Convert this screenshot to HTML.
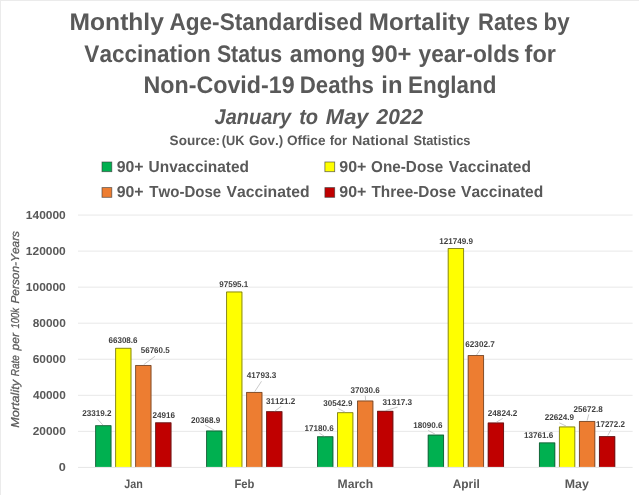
<!DOCTYPE html>
<html lang="en"><head><meta charset="utf-8"><title>Monthly Age-Standardised Mortality Rates</title>
<style>
html,body{margin:0;padding:0;background:#fff;}
body{width:639px;height:495px;overflow:hidden;}
svg{display:block;font-family:"Liberation Sans",sans-serif;font-kerning:none;text-rendering:geometricPrecision;}
</style></head><body>
<svg width="639" height="495" viewBox="0 0 639 495">
<rect x="0" y="0" width="639" height="495" fill="#ffffff"/>
<rect x="0" y="0" width="639" height="1" fill="#ebebeb"/>
<rect x="0" y="0" width="1" height="495" fill="#ebebeb"/>

<text y="30.00" font-size="24" fill="#595959" style="font-weight:bold"><tspan x="69.60" textLength="94.28" lengthAdjust="spacingAndGlyphs">Monthly</tspan> <tspan x="169.44" textLength="193.30" lengthAdjust="spacingAndGlyphs">Age-Standardised</tspan> <tspan x="368.88" textLength="100.75" lengthAdjust="spacingAndGlyphs">Mortality</tspan> <tspan x="478.03" textLength="59.87" lengthAdjust="spacingAndGlyphs">Rates</tspan> <tspan x="543.53" textLength="26.09" lengthAdjust="spacingAndGlyphs">by</tspan></text>
<text y="61.50" font-size="24" fill="#595959" style="font-weight:bold"><tspan x="84.35" textLength="126.55" lengthAdjust="spacingAndGlyphs">Vaccination</tspan> <tspan x="216.89" textLength="65.24" lengthAdjust="spacingAndGlyphs">Status</tspan> <tspan x="289.83" textLength="75.46" lengthAdjust="spacingAndGlyphs">among</tspan> <tspan x="371.18" textLength="40.29" lengthAdjust="spacingAndGlyphs">90+</tspan> <tspan x="418.57" textLength="101.11" lengthAdjust="spacingAndGlyphs">year-olds</tspan> <tspan x="524.60" textLength="31.26" lengthAdjust="spacingAndGlyphs">for</tspan></text>
<text y="92.75" font-size="24" fill="#595959" style="font-weight:bold"><tspan x="143.44" textLength="151.17" lengthAdjust="spacingAndGlyphs">Non-Covid-19</tspan> <tspan x="299.76" textLength="74.15" lengthAdjust="spacingAndGlyphs">Deaths</tspan> <tspan x="381.34" textLength="21.14" lengthAdjust="spacingAndGlyphs">in</tspan> <tspan x="408.00" textLength="88.48" lengthAdjust="spacingAndGlyphs">England</tspan></text>
<text y="124.10" font-size="21.5" fill="#595959" style="font-weight:bold;font-style:italic"><tspan x="214.56" textLength="76.61" lengthAdjust="spacingAndGlyphs">January</tspan> <tspan x="299.15" textLength="18.99" lengthAdjust="spacingAndGlyphs">to</tspan> <tspan x="325.86" textLength="42.72" lengthAdjust="spacingAndGlyphs">May</tspan> <tspan x="376.58" textLength="46.64" lengthAdjust="spacingAndGlyphs">2022</tspan></text>
<text y="145.40" font-size="13.6" fill="#595959" style="font-weight:bold"><tspan x="169.61" textLength="50.44" lengthAdjust="spacingAndGlyphs">Source:</tspan> <tspan x="221.86" textLength="22.76" lengthAdjust="spacingAndGlyphs">(UK</tspan> <tspan x="248.95" textLength="34.22" lengthAdjust="spacingAndGlyphs">Gov.)</tspan> <tspan x="286.94" textLength="38.52" lengthAdjust="spacingAndGlyphs">Office</tspan> <tspan x="329.78" textLength="17.42" lengthAdjust="spacingAndGlyphs">for</tspan> <tspan x="352.04" textLength="56.47" lengthAdjust="spacingAndGlyphs">National</tspan> <tspan x="413.38" textLength="57.15" lengthAdjust="spacingAndGlyphs">Statistics</tspan></text>
<rect x="102.00" y="162.00" width="9.8" height="9.7" fill="#00B050" stroke="#3a3a3a" stroke-opacity="0.75" stroke-width="0.8"/>
<rect x="324.90" y="162.00" width="9.8" height="9.7" fill="#FFFF00" stroke="#3a3a3a" stroke-opacity="0.75" stroke-width="0.8"/>
<rect x="102.00" y="187.60" width="9.8" height="9.7" fill="#ED7D31" stroke="#3a3a3a" stroke-opacity="0.75" stroke-width="0.8"/>
<rect x="324.90" y="187.60" width="9.8" height="9.7" fill="#C00000" stroke="#3a3a3a" stroke-opacity="0.75" stroke-width="0.8"/>
<text y="171.80" font-size="15.9" fill="#595959" style="font-weight:bold"><tspan x="116.65" textLength="26.89" lengthAdjust="spacingAndGlyphs">90+</tspan> <tspan x="148.57" textLength="100.45" lengthAdjust="spacingAndGlyphs">Unvaccinated</tspan></text>
<text y="197.20" font-size="15.9" fill="#595959" style="font-weight:bold"><tspan x="116.65" textLength="26.89" lengthAdjust="spacingAndGlyphs">90+</tspan> <tspan x="149.33" textLength="71.88" lengthAdjust="spacingAndGlyphs">Two-Dose</tspan> <tspan x="226.59" textLength="82.94" lengthAdjust="spacingAndGlyphs">Vaccinated</tspan></text>
<text y="171.80" font-size="15.9" fill="#595959" style="font-weight:bold"><tspan x="339.25" textLength="27.10" lengthAdjust="spacingAndGlyphs">90+</tspan> <tspan x="371.07" textLength="72.15" lengthAdjust="spacingAndGlyphs">One-Dose</tspan> <tspan x="448.69" textLength="82.23" lengthAdjust="spacingAndGlyphs">Vaccinated</tspan></text>
<text y="197.20" font-size="15.9" fill="#595959" style="font-weight:bold"><tspan x="339.25" textLength="27.10" lengthAdjust="spacingAndGlyphs">90+</tspan> <tspan x="371.43" textLength="84.50" lengthAdjust="spacingAndGlyphs">Three-Dose</tspan> <tspan x="461.09" textLength="82.23" lengthAdjust="spacingAndGlyphs">Vaccinated</tspan></text>
<rect x="78" y="430.85" width="554.6" height="1" fill="#e8e8e8"/>
<rect x="78" y="394.80" width="554.6" height="1" fill="#e8e8e8"/>
<rect x="78" y="358.75" width="554.6" height="1" fill="#e8e8e8"/>
<rect x="78" y="322.70" width="554.6" height="1" fill="#e8e8e8"/>
<rect x="78" y="286.65" width="554.6" height="1" fill="#e8e8e8"/>
<rect x="78" y="250.60" width="554.6" height="1" fill="#e8e8e8"/>
<rect x="78" y="214.55" width="554.6" height="1" fill="#e8e8e8"/>
<text x="58.76" y="470.90" font-size="11.6" fill="#595959" style="font-weight:bold" textLength="7.06" lengthAdjust="spacingAndGlyphs">0</text>
<text x="32.69" y="434.90" font-size="11.6" fill="#595959" style="font-weight:bold" textLength="33.10" lengthAdjust="spacingAndGlyphs">20000</text>
<text x="32.92" y="398.90" font-size="11.6" fill="#595959" style="font-weight:bold" textLength="32.86" lengthAdjust="spacingAndGlyphs">40000</text>
<text x="32.66" y="362.90" font-size="11.6" fill="#595959" style="font-weight:bold" textLength="33.12" lengthAdjust="spacingAndGlyphs">60000</text>
<text x="32.72" y="326.90" font-size="11.6" fill="#595959" style="font-weight:bold" textLength="33.07" lengthAdjust="spacingAndGlyphs">80000</text>
<text x="25.81" y="290.90" font-size="11.6" fill="#595959" style="font-weight:bold" textLength="39.99" lengthAdjust="spacingAndGlyphs">100000</text>
<text x="25.81" y="254.90" font-size="11.6" fill="#595959" style="font-weight:bold" textLength="39.99" lengthAdjust="spacingAndGlyphs">120000</text>
<text x="25.81" y="218.90" font-size="11.6" fill="#595959" style="font-weight:bold" textLength="39.99" lengthAdjust="spacingAndGlyphs">140000</text>
<text transform="translate(19.4,427.5) rotate(-90)" y="0" font-size="11.5" fill="#595959" stroke="#595959" stroke-width="0.25" style="font-style:italic"><tspan x="-0.39" textLength="47.95" lengthAdjust="spacingAndGlyphs">Mortality</tspan> <tspan x="51.19" textLength="21.28" lengthAdjust="spacingAndGlyphs">Rate</tspan> <tspan x="77.00" textLength="17.59" lengthAdjust="spacingAndGlyphs">per</tspan> <tspan x="99.06" textLength="20.45" lengthAdjust="spacingAndGlyphs">100k</tspan> <tspan x="123.93" textLength="72.61" lengthAdjust="spacingAndGlyphs">Person-Years</tspan></text>
<rect x="95.20" y="425.28" width="16.20" height="41.72" fill="#00B050"/>
<path d="M95.60 467.00V425.68H111.00V467.00" fill="none" stroke="#2b2b2b" stroke-opacity="0.7" stroke-width="0.8"/>
<rect x="115.20" y="347.89" width="16.20" height="119.11" fill="#FFFF00"/>
<path d="M115.60 467.00V348.29H131.00V467.00" fill="none" stroke="#2b2b2b" stroke-opacity="0.7" stroke-width="0.8"/>
<rect x="135.20" y="365.08" width="16.20" height="101.92" fill="#ED7D31"/>
<path d="M135.60 467.00V365.48H151.00V467.00" fill="none" stroke="#2b2b2b" stroke-opacity="0.7" stroke-width="0.8"/>
<rect x="155.20" y="422.40" width="16.20" height="44.60" fill="#C00000"/>
<path d="M155.60 467.00V422.80H171.00V467.00" fill="none" stroke="#2b2b2b" stroke-opacity="0.7" stroke-width="0.8"/>
<rect x="206.15" y="430.59" width="16.20" height="36.41" fill="#00B050"/>
<path d="M206.55 467.00V430.99H221.95V467.00" fill="none" stroke="#2b2b2b" stroke-opacity="0.7" stroke-width="0.8"/>
<rect x="226.15" y="291.58" width="16.20" height="175.42" fill="#FFFF00"/>
<path d="M226.55 467.00V291.98H241.95V467.00" fill="none" stroke="#2b2b2b" stroke-opacity="0.7" stroke-width="0.8"/>
<rect x="246.15" y="392.02" width="16.20" height="74.98" fill="#ED7D31"/>
<path d="M246.55 467.00V392.42H261.95V467.00" fill="none" stroke="#2b2b2b" stroke-opacity="0.7" stroke-width="0.8"/>
<rect x="266.15" y="411.23" width="16.20" height="55.77" fill="#C00000"/>
<path d="M266.55 467.00V411.63H281.95V467.00" fill="none" stroke="#2b2b2b" stroke-opacity="0.7" stroke-width="0.8"/>
<rect x="317.10" y="436.32" width="16.20" height="30.68" fill="#00B050"/>
<path d="M317.50 467.00V436.72H332.90V467.00" fill="none" stroke="#2b2b2b" stroke-opacity="0.7" stroke-width="0.8"/>
<rect x="337.10" y="412.27" width="16.20" height="54.73" fill="#FFFF00"/>
<path d="M337.50 467.00V412.67H352.90V467.00" fill="none" stroke="#2b2b2b" stroke-opacity="0.7" stroke-width="0.8"/>
<rect x="357.10" y="400.59" width="16.20" height="66.41" fill="#ED7D31"/>
<path d="M357.50 467.00V400.99H372.90V467.00" fill="none" stroke="#2b2b2b" stroke-opacity="0.7" stroke-width="0.8"/>
<rect x="377.10" y="410.88" width="16.20" height="56.12" fill="#C00000"/>
<path d="M377.50 467.00V411.28H392.90V467.00" fill="none" stroke="#2b2b2b" stroke-opacity="0.7" stroke-width="0.8"/>
<rect x="427.80" y="434.69" width="16.20" height="32.31" fill="#00B050"/>
<path d="M428.20 467.00V435.09H443.60V467.00" fill="none" stroke="#2b2b2b" stroke-opacity="0.7" stroke-width="0.8"/>
<rect x="447.80" y="248.10" width="16.20" height="218.90" fill="#FFFF00"/>
<path d="M448.20 467.00V248.50H463.60V467.00" fill="none" stroke="#2b2b2b" stroke-opacity="0.7" stroke-width="0.8"/>
<rect x="467.80" y="355.11" width="16.20" height="111.89" fill="#ED7D31"/>
<path d="M468.20 467.00V355.51H483.60V467.00" fill="none" stroke="#2b2b2b" stroke-opacity="0.7" stroke-width="0.8"/>
<rect x="487.80" y="422.57" width="16.20" height="44.43" fill="#C00000"/>
<path d="M488.20 467.00V422.97H503.60V467.00" fill="none" stroke="#2b2b2b" stroke-opacity="0.7" stroke-width="0.8"/>
<rect x="539.00" y="442.48" width="16.20" height="24.52" fill="#00B050"/>
<path d="M539.40 467.00V442.88H554.80V467.00" fill="none" stroke="#2b2b2b" stroke-opacity="0.7" stroke-width="0.8"/>
<rect x="559.00" y="426.53" width="16.20" height="40.47" fill="#FFFF00"/>
<path d="M559.40 467.00V426.93H574.80V467.00" fill="none" stroke="#2b2b2b" stroke-opacity="0.7" stroke-width="0.8"/>
<rect x="579.00" y="421.04" width="16.20" height="45.96" fill="#ED7D31"/>
<path d="M579.40 467.00V421.44H594.80V467.00" fill="none" stroke="#2b2b2b" stroke-opacity="0.7" stroke-width="0.8"/>
<rect x="599.00" y="436.16" width="16.20" height="30.84" fill="#C00000"/>
<path d="M599.40 467.00V436.56H614.80V467.00" fill="none" stroke="#2b2b2b" stroke-opacity="0.7" stroke-width="0.8"/>
<rect x="78" y="466.9" width="554.6" height="1" fill="#e6e6e6"/>
<line x1="97.25" y1="418.75" x2="102.9" y2="425" stroke="#a6a6a6" stroke-width="0.6"/>
<text x="82.22" y="415.85" font-size="8.4" fill="#404040" style="font-weight:bold" textLength="29.36" lengthAdjust="spacingAndGlyphs">23319.2</text>
<text x="108.46" y="343.35" font-size="8.4" fill="#404040" style="font-weight:bold" textLength="29.09" lengthAdjust="spacingAndGlyphs">66308.6</text>
<line x1="155" y1="356.25" x2="143.75" y2="364.6" stroke="#a6a6a6" stroke-width="0.6"/>
<text x="140.75" y="353.35" font-size="8.4" fill="#404040" style="font-weight:bold" textLength="28.87" lengthAdjust="spacingAndGlyphs">56760.5</text>
<text x="152.47" y="417.75" font-size="8.4" fill="#404040" style="font-weight:bold" textLength="22.57" lengthAdjust="spacingAndGlyphs">24916</text>
<line x1="205" y1="425" x2="214.4" y2="430.25" stroke="#a6a6a6" stroke-width="0.6"/>
<text x="190.97" y="423.05" font-size="8.4" fill="#404040" style="font-weight:bold" textLength="29.33" lengthAdjust="spacingAndGlyphs">20368.9</text>
<text x="219.22" y="287.15" font-size="8.4" fill="#404040" style="font-weight:bold" textLength="29.10" lengthAdjust="spacingAndGlyphs">97595.1</text>
<line x1="261.5" y1="381.25" x2="254.75" y2="391.6" stroke="#a6a6a6" stroke-width="0.6"/>
<text x="246.78" y="378.45" font-size="8.4" fill="#404040" style="font-weight:bold" textLength="29.52" lengthAdjust="spacingAndGlyphs">41793.3</text>
<line x1="281.25" y1="406.25" x2="274.75" y2="411.25" stroke="#a6a6a6" stroke-width="0.6"/>
<text x="266.06" y="403.75" font-size="8.4" fill="#404040" style="font-weight:bold" textLength="29.26" lengthAdjust="spacingAndGlyphs">31121.2</text>
<line x1="319.4" y1="433.1" x2="324.4" y2="436.25" stroke="#a6a6a6" stroke-width="0.6"/>
<text x="304.49" y="430.55" font-size="8.4" fill="#404040" style="font-weight:bold" textLength="29.30" lengthAdjust="spacingAndGlyphs">17180.6</text>
<line x1="338.1" y1="408.5" x2="345" y2="412.1" stroke="#a6a6a6" stroke-width="0.6"/>
<text x="323.32" y="405.65" font-size="8.4" fill="#404040" style="font-weight:bold" textLength="29.08" lengthAdjust="spacingAndGlyphs">30542.9</text>
<line x1="365.3" y1="395.8" x2="365.6" y2="400" stroke="#a6a6a6" stroke-width="0.6"/>
<text x="350.41" y="392.95" font-size="8.4" fill="#404040" style="font-weight:bold" textLength="29.28" lengthAdjust="spacingAndGlyphs">37030.6</text>
<line x1="397.5" y1="407.1" x2="385.6" y2="410.6" stroke="#a6a6a6" stroke-width="0.6"/>
<text x="382.56" y="404.65" font-size="8.4" fill="#404040" style="font-weight:bold" textLength="29.63" lengthAdjust="spacingAndGlyphs">31317.3</text>
<line x1="428.1" y1="430.4" x2="435" y2="434.1" stroke="#a6a6a6" stroke-width="0.6"/>
<text x="413.24" y="427.55" font-size="8.4" fill="#404040" style="font-weight:bold" textLength="29.30" lengthAdjust="spacingAndGlyphs">18090.6</text>
<text x="439.24" y="243.75" font-size="8.4" fill="#404040" style="font-weight:bold" textLength="33.81" lengthAdjust="spacingAndGlyphs">121749.9</text>
<line x1="480.4" y1="349.4" x2="476.6" y2="355" stroke="#a6a6a6" stroke-width="0.6"/>
<text x="465.30" y="346.75" font-size="8.4" fill="#404040" style="font-weight:bold" textLength="29.46" lengthAdjust="spacingAndGlyphs">62302.7</text>
<line x1="502.75" y1="418.4" x2="496.25" y2="422.25" stroke="#a6a6a6" stroke-width="0.6"/>
<text x="487.82" y="415.85" font-size="8.4" fill="#404040" style="font-weight:bold" textLength="29.41" lengthAdjust="spacingAndGlyphs">24824.2</text>
<text x="523.89" y="438.35" font-size="8.4" fill="#404040" style="font-weight:bold" textLength="29.30" lengthAdjust="spacingAndGlyphs">13761.6</text>
<line x1="559.4" y1="422.9" x2="566" y2="426" stroke="#a6a6a6" stroke-width="0.6"/>
<text x="544.72" y="420.25" font-size="8.4" fill="#404040" style="font-weight:bold" textLength="29.33" lengthAdjust="spacingAndGlyphs">22624.9</text>
<line x1="588.75" y1="414.4" x2="587.1" y2="420.6" stroke="#a6a6a6" stroke-width="0.6"/>
<text x="573.47" y="411.95" font-size="8.4" fill="#404040" style="font-weight:bold" textLength="29.18" lengthAdjust="spacingAndGlyphs">25672.8</text>
<line x1="610.9" y1="429.75" x2="607.75" y2="435.5" stroke="#a6a6a6" stroke-width="0.6"/>
<text x="596.00" y="426.85" font-size="8.4" fill="#404040" style="font-weight:bold" textLength="28.92" lengthAdjust="spacingAndGlyphs">17272.2</text>
<text y="488.45" font-size="12.2" fill="#595959" style="font-weight:bold"><tspan x="124.24" textLength="18.53" lengthAdjust="spacingAndGlyphs">Jan</tspan> <tspan x="234.50" textLength="19.96" lengthAdjust="spacingAndGlyphs">Feb</tspan> <tspan x="337.59" textLength="35.66" lengthAdjust="spacingAndGlyphs">March</tspan> <tspan x="452.80" textLength="27.04" lengthAdjust="spacingAndGlyphs">April</tspan> <tspan x="564.77" textLength="24.04" lengthAdjust="spacingAndGlyphs">May</tspan></text>
</svg>
</body></html>
